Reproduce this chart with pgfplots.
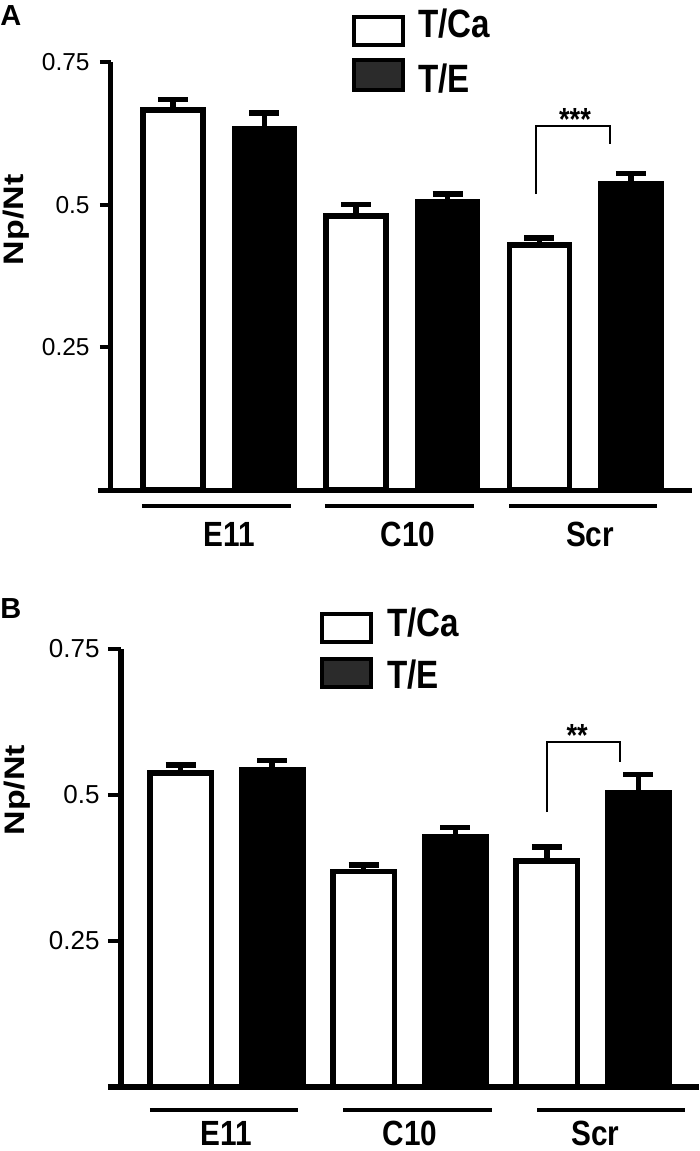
\documentclass[border=0pt]{standalone}
\usepackage{fontspec}
\setmainfont{Liberation Sans}
\usepackage{graphicx}
\usepackage{pgfplots}
\pgfplotsset{compat=1.18}
\definecolor{legdark}{RGB}{43,43,43}
\newcommand{\sq}[1]{\scalebox{0.85}[1]{#1}}
\begin{document}
\begin{tikzpicture}
\path[use as bounding box] (0,0) rectangle (350pt,-575.5pt);

% ---------------- Panel A ----------------
\begin{axis}[
  at={(55.5pt,-245pt)}, anchor=south west,
  scale only axis, width=290.5pt, height=214pt,
  xmin=0.326, xmax=6.666, ymin=0, ymax=0.75,
  clip=false,
  axis lines=left, separate axis lines,
  axis line style={-, line width=2.5pt, black},
  x axis line style={shorten <=-6.5pt},
  tick align=outside, major tick length=5.5pt,
  tick style={line width=2pt, black},
  /pgf/number format/assume math mode=true,
  ytick={0.25,0.5,0.75}, yticklabels={0.25,0.5,0.75},
  yticklabel style={font=\fontsize{12.25}{12.5}\selectfont, anchor=east, inner sep=0pt, xshift=-5pt},
  xtick={1.613,3.567,5.553}, xticklabels={\sq{E11},\sq{C10},\sq{Scr}},
  xtick style={draw=none},
  xticklabel style={font=\bfseries\fontsize{17.5}{18}\selectfont, anchor=base, inner sep=0pt, yshift=-22.85pt},
  ylabel={\scalebox{1}[0.83]{Np/Nt}},
  ylabel style={at={(axis description cs:-0.1626,0.631)}, anchor=center, inner sep=0pt, font=\bfseries\fontsize{17}{17}\selectfont},
]
\addplot[ybar, bar shift=0pt, bar width=30pt, fill=white, draw=black, line width=2.75pt,
  error bars/.cd, y dir=plus, y explicit,
  error bar style={line width=2.75pt, black},
  error mark options={rotate=90, line width=2.75pt, mark size=7.5pt, black}]
  coordinates {(1,0.666) +- (0,0.018) (3,0.480) +- (0,0.020) (5,0.429) +- (0,0.013)};
\addplot[ybar, bar shift=0pt, bar width=30pt, fill=black, draw=black, line width=2.75pt,
  error bars/.cd, y dir=plus, y explicit,
  error bar style={line width=2.75pt, black},
  error mark options={rotate=90, line width=2.75pt, mark size=7.5pt, black}]
  coordinates {(2,0.633) +- (0,0.028) (4,0.505) +- (0,0.014) (6,0.537) +- (0,0.018)};
% group underlines
\draw[line width=2pt] (axis cs:0.664,-0.0289) -- (axis cs:2.290,-0.0289);
\draw[line width=2pt] (axis cs:2.661,-0.0289) -- (axis cs:4.287,-0.0289);
\draw[line width=2pt] (axis cs:4.669,-0.0289) -- (axis cs:6.284,-0.0289);
% significance bracket
\draw[line width=1.3pt] (axis cs:4.963,0.5187) -- (axis cs:4.963,0.6378) -- (axis cs:5.771,0.6378) -- (axis cs:5.771,0.6063);
\node[anchor=base, inner sep=0pt, font=\bfseries\fontsize{16}{16}\selectfont] at (axis cs:5.389,0.6308) {\sq{***}};
\end{axis}

% ---------------- Panel B ----------------
\begin{axis}[
  at={(60.5pt,-543.5pt)}, anchor=south west,
  scale only axis, width=289pt, height=219pt,
  xmin=0.348, xmax=6.663, ymin=0, ymax=0.75,
  clip=false,
  axis lines=left, separate axis lines,
  axis line style={-, line width=3pt, black},
  x axis line style={shorten <=-6.5pt},
  tick align=outside, major tick length=6.5pt,
  tick style={line width=2.25pt, black},
  /pgf/number format/assume math mode=true,
  ytick={0.25,0.5,0.75}, yticklabels={0.25,0.5,0.75},
  yticklabel style={font=\fontsize{13}{13}\selectfont, anchor=east, inner sep=0pt, xshift=-4pt},
  xtick={1.495,3.506,5.533}, xticklabels={\sq{E11},\sq{C10},\sq{Scr}},
  xtick style={draw=none},
  xticklabel style={font=\bfseries\fontsize{17.5}{18}\selectfont, anchor=base, inner sep=0pt, yshift=-22.5pt},
  ylabel={\scalebox{1}[0.83]{Np/Nt}},
  ylabel style={at={(axis description cs:-0.179,0.678)}, anchor=center, inner sep=0pt, font=\bfseries\fontsize{17}{17}\selectfont},
]
\addplot[ybar, bar shift=0pt, bar width=30.75pt, fill=white, draw=black, line width=2.75pt,
  error bars/.cd, y dir=plus, y explicit,
  error bar style={line width=2.75pt, black},
  error mark options={rotate=90, line width=2.75pt, mark size=7.5pt, black}]
  coordinates {(1,0.538) +- (0,0.013) (3,0.369) +- (0,0.011) (5,0.387) +- (0,0.024)};
\addplot[ybar, bar shift=0pt, bar width=30.75pt, fill=black, draw=black, line width=2.75pt,
  error bars/.cd, y dir=plus, y explicit,
  error bar style={line width=2.75pt, black},
  error mark options={rotate=90, line width=2.75pt, mark size=7.5pt, black}]
  coordinates {(2,0.543) +- (0,0.016) (4,0.429) +- (0,0.015) (6,0.504) +- (0,0.031)};
\draw[line width=2pt] (axis cs:0.664,-0.0394) -- (axis cs:2.282,-0.0394);
\draw[line width=2pt] (axis cs:2.774,-0.0394) -- (axis cs:4.402,-0.0394);
\draw[line width=2pt] (axis cs:4.894,-0.0394) -- (axis cs:6.511,-0.0394);
\draw[line width=1.3pt] (axis cs:5.003,0.4709) -- (axis cs:5.003,0.5908) -- (axis cs:5.801,0.5908) -- (axis cs:5.801,0.5565);
\node[anchor=base, inner sep=0pt, font=\bfseries\fontsize{16}{16}\selectfont] at (axis cs:5.331,0.5839) {\sq{**}};
\end{axis}

% ---------------- legends and panel letters ----------------
\begin{scope}[x=0.5pt, y=-0.5pt]
\node[anchor=north west, inner sep=0pt, font=\bfseries\fontsize{14.5}{14.5}\selectfont] at (0,5) {A};
\node[anchor=north west, inner sep=0pt, font=\bfseries\fontsize{14.5}{14.5}\selectfont] at (0,598) {B};
% legend A
\draw[line width=2pt, fill=white] (354,17) rectangle (403,45);
\draw[line width=2pt, fill=legdark] (354,60) rectangle (403,90);
\node[anchor=base west, inner sep=0pt, font=\bfseries\fontsize{19.75}{20}\selectfont] at (418,37) {\scalebox{0.84}[1]{T/Ca}};
\node[anchor=base west, inner sep=0pt, font=\bfseries\fontsize{19.75}{20}\selectfont] at (418,92) {\scalebox{0.84}[1]{T/E}};
% legend B
\draw[line width=2pt, fill=white] (322,614) rectangle (371,642);
\draw[line width=2pt, fill=legdark] (322,659) rectangle (371,687);
\node[anchor=base west, inner sep=0pt, font=\bfseries\fontsize{19.75}{20}\selectfont] at (387,636) {\scalebox{0.84}[1]{T/Ca}};
\node[anchor=base west, inner sep=0pt, font=\bfseries\fontsize{19.75}{20}\selectfont] at (387,688) {\scalebox{0.84}[1]{T/E}};
\end{scope}
\end{tikzpicture}
\end{document}
